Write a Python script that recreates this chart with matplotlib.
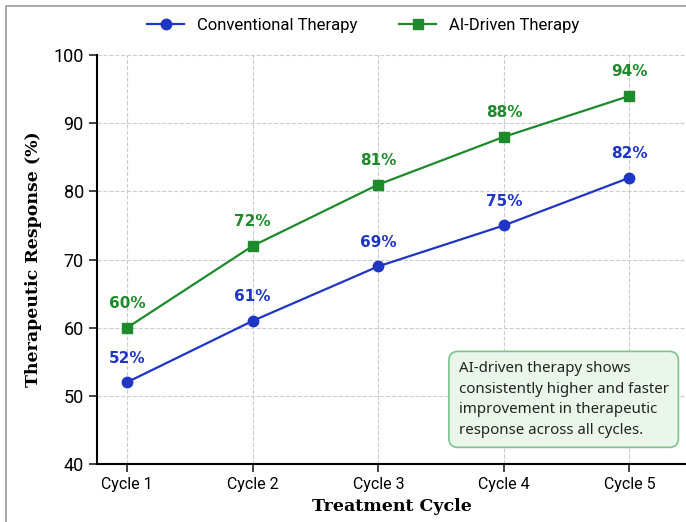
import matplotlib
matplotlib.use('Agg')
import matplotlib.pyplot as plt
from matplotlib.patches import Rectangle

cycles = ["Cycle 1", "Cycle 2", "Cycle 3", "Cycle 4", "Cycle 5"]
conventional = [52, 61, 69, 75, 82]
ai_driven = [60, 72, 81, 88, 94]
note = ("AI-driven therapy shows\nconsistently higher and faster\n"
        "improvement in therapeutic\nresponse across all cycles.")

blue = '#1f35c4'
green = '#1d8a2c'
narrow = ['Liberation Sans Narrow', 'Roboto', 'DejaVu Sans']

fig = plt.figure(figsize=(6.86, 5.22), dpi=100)
fig.patches.append(Rectangle((0.009, -0.01), 1.0, 0.998, transform=fig.transFigure,
                             fill=False, edgecolor='#999999', linewidth=1.2))
ax = fig.add_axes([0.1414, 0.1111, 0.8586, 0.7835])

x = list(range(1, len(cycles) + 1))
ax.plot(x, conventional, color=blue, marker='o', markersize=7.5, linewidth=1.6,
        label='Conventional Therapy', zorder=3)
ax.plot(x, ai_driven, color=green, marker='s', markersize=7.5, linewidth=1.6,
        label='AI-Driven Therapy', zorder=3)

for xi, v in zip(x, conventional):
    ax.annotate(f"{v}%", (xi, v), xytext=(0, 12), textcoords='offset points',
                ha='center', va='bottom', color=blue, fontsize=11, fontweight='bold')
for xi, v in zip(x, ai_driven):
    ax.annotate(f"{v}%", (xi, v), xytext=(0, 12), textcoords='offset points',
                ha='center', va='bottom', color=green, fontsize=11, fontweight='bold')

ax.set_xlim(0.76, 5.45)
ax.set_ylim(40, 100)
ax.set_yticks(range(40, 101, 10))
ax.set_xticks(x)
ax.set_xticklabels(cycles)
ax.grid(True, linestyle='--', color='#cccccc', linewidth=0.8)
ax.set_axisbelow(True)
for s in ['top', 'right']:
    ax.spines[s].set_visible(False)
ax.spines['left'].set_linewidth(1.5)
ax.spines['bottom'].set_linewidth(1.5)
ax.tick_params(axis='both', length=6, width=1.2, color='#222222')
for lbl in ax.get_yticklabels():
    lbl.set_family(narrow)
    lbl.set_fontsize(13)
for lbl in ax.get_xticklabels():
    lbl.set_family(narrow)
    lbl.set_fontsize(11.5)

ax.set_xlabel("Treatment Cycle", family='DejaVu Serif', fontweight='bold', fontsize=12.5, labelpad=4)
ax.set_ylabel("Therapeutic Response (%)", family='DejaVu Serif', fontweight='bold', fontsize=12.5, labelpad=8)

fig.legend(loc='upper center', bbox_to_anchor=(0.53, 0.995), ncol=2, frameon=False,
           prop={'family': narrow, 'size': 12}, handlelength=2.2, columnspacing=2.5)

ax.text(0.614, 0.158, note, transform=ax.transAxes, fontsize=10.8, va='center', ha='left',
        family=['Noto Sans', 'DejaVu Sans'], linespacing=1.5, color='#222222',
        bbox=dict(boxstyle='round,pad=0.65,rounding_size=0.6', facecolor='#eaf6ea',
                  edgecolor='#7cc48a', linewidth=1.2))

plt.savefig("out.png", dpi=100)
plt.close()
